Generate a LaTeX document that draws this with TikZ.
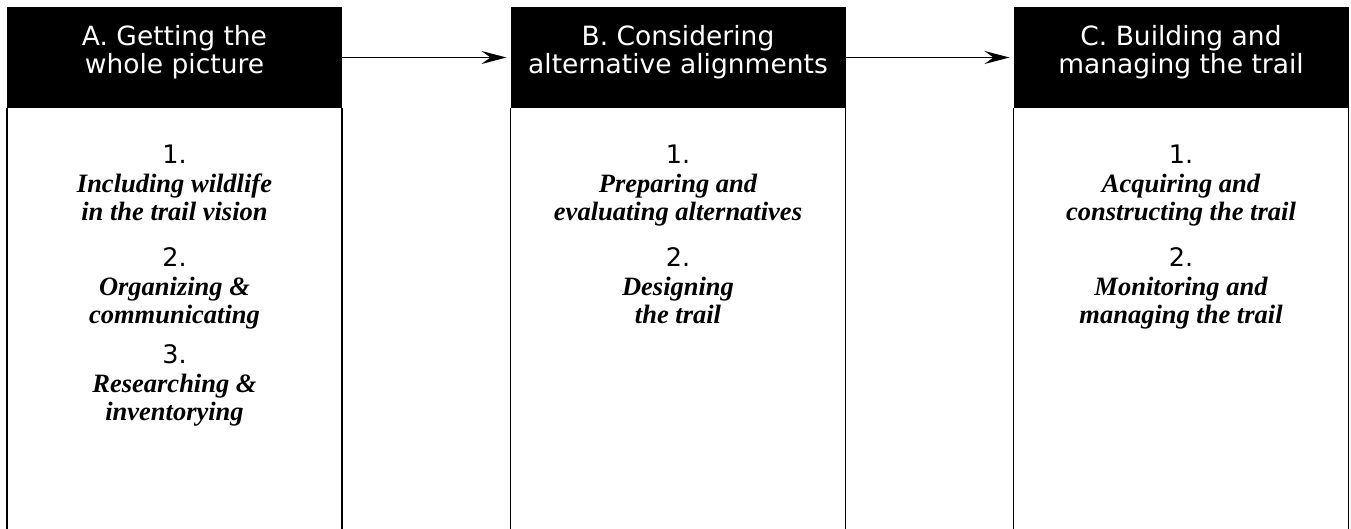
\documentclass[tikz,border=0pt]{standalone}
\usepackage{fontspec}
\setmainfont{Liberation Serif}
\newfontfamily\hdfont{DejaVu Sans}
\usetikzlibrary{arrows.meta}
\newcommand{\numtxt}[1]{{\normalfont\hdfont\fontsize{25.5}{27}\selectfont #1}\\[1pt]}
\tikzset{
  head/.style={fill=black, minimum width=335pt, minimum height=101pt, inner sep=0pt, outer sep=0pt},
  headtxt/.style={text=white, align=center, inner sep=0pt, font=\hdfont\fontsize{26.5}{28.5}\selectfont},
  item/.style={align=center, inner sep=0pt, anchor=base, font=\bfseries\itshape\fontsize{26.5}{28}\selectfont},
  frame/.style={line width=1.4pt},
  arr/.style={line width=1.5pt, -{Stealth[length=25pt,width=13pt,inset=9pt]}}
}
\begin{document}
\begin{tikzpicture}[x=1pt,y=-1pt]
\useasboundingbox (0,0) rectangle (1351,529);
% headers
\node[head] (hA) at (174.5,57.5) {};
\node[head] (hB) at (678,57.5) {};
\node[head] (hC) at (1181,57.5) {};
\node[headtxt] (tA) at (174.5,52) {A. Getting the\\whole picture};
\node[headtxt] (tB) at (678,52) {B. Considering\\alternative alignments};
\node[headtxt] (tC) at (1181,52) {C. Building and\\managing the trail};
% frames
\foreach \h in {hA,hB,hC}{
  \draw[frame] (\h.south west) -- (\h.south west |- 0,530);
  \draw[frame] (\h.south east) -- (\h.south east |- 0,530);
}
% arrows
\draw[arr] (hA.east) -- ([xshift=-4pt]hB.west);
\draw[arr] (hB.east) -- ([xshift=-4pt]hC.west);
% column A
\node[item] (a1) at (174.5,221) {\numtxt{1.}Including wildlife\\in the trail vision};
\node[item] (a2) at (174.5,323) {\numtxt{2.}Organizing \&\\communicating};
\node[item] (a3) at (174.5,420) {\numtxt{3.}Researching \&\\inventorying};
% column B
\node[item] (b1) at (678,221) {\numtxt{1.}Preparing and\\evaluating alternatives};
\node[item] (b2) at (678,323) {\numtxt{2.}Designing\\the trail};
% column C
\node[item] (c1) at (1181,221) {\numtxt{1.}Acquiring and\\constructing the trail};
\node[item] (c2) at (1181,323) {\numtxt{2.}Monitoring and\\managing the trail};
\end{tikzpicture}
\end{document}
